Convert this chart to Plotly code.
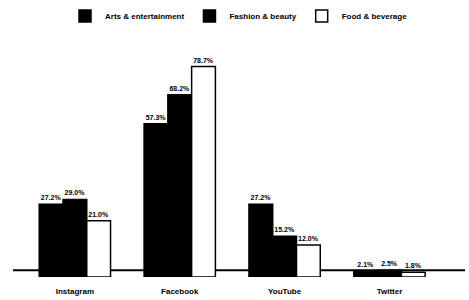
import plotly.graph_objects as go

categories = ["Instagram", "Facebook", "YouTube", "Twitter"]
series_names = ["Arts & entertainment", "Fashion & beauty", "Food & beverage"]
arts = [27.2, 57.3, 27.2, 2.1]
fashion = [29.0, 68.2, 15.2, 2.5]
food = [21.0, 78.7, 12.0, 1.8]

fills = ["#000000", "#000000", "#ffffff"]
values = [arts, fashion, food]

fig = go.Figure()
for name, vals, col in zip(series_names, values, fills):
    fig.add_trace(go.Bar(
        name=f"<b>{name}</b>", x=categories, y=vals,
        marker=dict(color=col, line=dict(color="#000000", width=1.5)),
        text=[f"<b>{v:.1f}%</b>" for v in vals], textposition="outside",
        textfont=dict(size=7, color="#000000", family="Liberation Sans"),
        cliponaxis=False,
    ))

fig.update_layout(
    width=469, height=300,
    margin=dict(l=13, r=4, t=30, b=20),
    barmode="group", bargap=0.32, bargroupgap=0,
    plot_bgcolor="white", paper_bgcolor="white",
    font=dict(family="Liberation Sans", size=8, color="#000000"),
    legend=dict(orientation="h", x=0.5, xanchor="center", y=0.995, yanchor="top",
                yref="container", font=dict(size=8), itemwidth=30,
                tracegroupgap=0),
    showlegend=True,
    shapes=[dict(type="line", xref="paper", yref="paper", x0=0, x1=1, y0=0.028, y1=0.028,
                 line=dict(color="#000000", width=2), layer="below")],
)
fig.update_xaxes(range=[-0.59, 3.72], showline=False,
                 ticks="outside", ticklen=6, tickcolor="rgba(0,0,0,0)",
                 tickfont=dict(size=8, color="#000000"), showgrid=False,
                 tickvals=categories, ticktext=[f"<b>{c}</b>" for c in categories])
fig.update_yaxes(range=[0, 90.7], visible=False, showgrid=False)

fig.write_html("out.html", config={"displayModeBar": False},
               post_script="document.body.style.margin='0';document.body.style.overflow='hidden';")
